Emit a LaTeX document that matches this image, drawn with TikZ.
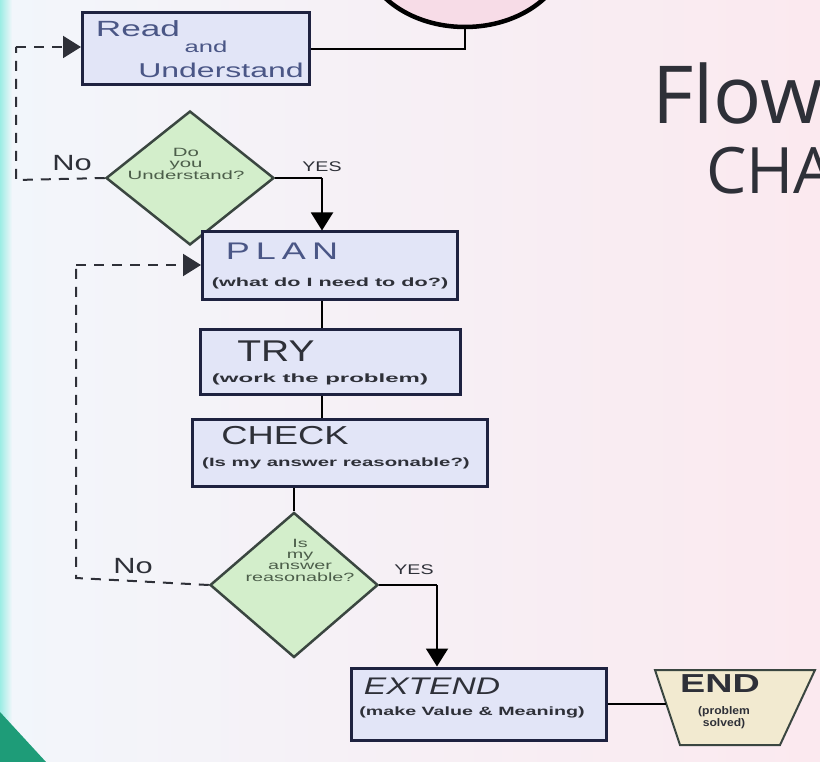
\documentclass[tikz,border=0pt]{standalone}
\usepackage{fontspec}
\setmainfont{Liberation Sans}
\newfontfamily\titlefont{Open Sans}
\usetikzlibrary{arrows.meta,shapes.geometric,calc}
\definecolor{bgL}{HTML}{F2F6FB}
\definecolor{bgR}{HTML}{FBE9EF}
\definecolor{boxfill}{HTML}{E2E5F7}
\definecolor{boxline}{HTML}{1E2240}
\definecolor{diafill}{HTML}{D3EECB}
\definecolor{dialine}{HTML}{3A4640}
\definecolor{endfill}{HTML}{F2EAD0}
\definecolor{ovalfill}{HTML}{F7DCE7}
\definecolor{bluetxt}{HTML}{4A5686}
\definecolor{darktxt}{HTML}{2E3038}
\definecolor{diatxt}{HTML}{4C5E4A}
\definecolor{teal}{HTML}{1E9C78}
\definecolor{cyanstrip}{HTML}{9CEDE4}
\tikzset{
  stepbox/.style={draw=boxline, line width=3pt, fill=boxfill, rectangle, inner sep=0pt},
  diabox/.style={draw=dialine, line width=2.5pt, fill=diafill, diamond, inner sep=0pt},
  txt/.style={inner sep=0pt, text=darktxt},
  diatext/.style={inner sep=0pt, text=diatxt, align=center, font=\fontsize{12}{11}\selectfont},
  conn/.style={draw=black, line width=2pt},
  dashconn/.style={draw=darktxt, line width=2pt, dash pattern=on 10pt off 8pt},
  arr/.style={-{Triangle[length=18pt,width=22pt]}},
  lbl/.style={inner sep=0pt, text=darktxt, font=\fontsize{22}{22}\selectfont},
  yeslbl/.style={inner sep=0pt, text=darktxt, font=\fontsize{14}{14}\selectfont}
}
\begin{document}
\begin{tikzpicture}[x=1pt,y=-1pt]
\useasboundingbox (0,0) rectangle (820,762);
\begin{scope}
\clip (0,0) rectangle (820,762);
% background
\shade[left color=bgL, right color=bgR] (0,0) rectangle (820,762);
\shade[left color=cyanstrip, right color=bgL] (0,0) rectangle (12,762);
\fill[teal] (0,712) -- (46,762) -- (0,762) -- cycle;

% start oval (cut off)
\node[ellipse, draw=black, line width=4.5pt, fill=ovalfill, minimum width=205pt, minimum height=156pt] (start) at (465,-51) {};

% title
\node[anchor=south west, inner sep=0pt, font=\titlefont\fontsize{80}{80}\selectfont, text=darktxt] (t1) at (652,124) {Flow};
\node[anchor=south west, inner sep=0pt, font=\titlefont\fontsize{64}{64}\selectfont, text=darktxt] (t2) at (706,194) {CHART};

% Read and Understand
\node[stepbox, minimum width=227pt, minimum height=72pt] (read) at (196,49) {};
\node[txt, text=bluetxt, font=\fontsize{22}{22}\selectfont] (rd1) at (138,29) {\scalebox{1.6}[1]{Read}};
\node[txt, text=bluetxt, font=\fontsize{16}{16}\selectfont] (rd2) at (206,47) {\scalebox{1.6}[1]{and}};
\node[txt, text=bluetxt, font=\fontsize{20}{20}\selectfont] (rd3) at (221,70) {\scalebox{1.6}[1]{Understand}};

% decision 1
\node[diabox, minimum width=168pt, minimum height=134pt] (d1) at (190,178) {};
\node[diatext] (d1t) at (186,166) {\scalebox{1.7}[1]{\begin{tabular}{@{}c@{}}Do\\you\\Understand?\end{tabular}}};

% PLAN
\node[stepbox, minimum width=255pt, minimum height=68pt] (plan) at (330,266) {};
\node[txt, text=bluetxt, font=\fontsize{24}{24}\selectfont] (p1) at (282,251) {\scalebox{1.5}[1]{P\,L\,A\,N}};
\node[txt, font=\bfseries\fontsize{12}{12}\selectfont] (p2) at (330,283) {\scalebox{1.8}[1]{(what do I need to do?)}};

% TRY
\node[stepbox, minimum width=260pt, minimum height=65pt] (try) at (330,362) {};
\node[txt, font=\fontsize{30}{30}\selectfont] (tr1) at (276,351) {\scalebox{1.3}[1]{TRY}};
\node[txt, font=\bfseries\fontsize{12}{12}\selectfont] (tr2) at (320,379) {\scalebox{2.0}[1]{(work the problem)}};

% CHECK
\node[stepbox, minimum width=295pt, minimum height=67pt] (check) at (340,453) {};
\node[txt, font=\fontsize{26}{26}\selectfont] (ch1) at (285,436) {\scalebox{1.4}[1]{CHECK}};
\node[txt, font=\bfseries\fontsize{12}{12}\selectfont] (ch2) at (336,463) {\scalebox{1.7}[1]{(Is my answer reasonable?)}};

% decision 2
\node[diabox, minimum width=168pt, minimum height=145pt] (d2) at (294,585) {};
\node[diatext] (d2t) at (300,562) {\scalebox{1.65}[1]{\begin{tabular}{@{}c@{}}Is\\my\\answer\\reasonable?\end{tabular}}};

% EXTEND
\node[stepbox, minimum width=255pt, minimum height=72pt] (extend) at (479,704) {};
\node[txt, font=\itshape\fontsize{24}{24}\selectfont] (e1) at (432,686) {\scalebox{1.4}[1]{EXTEND}};
\node[txt, font=\bfseries\fontsize{12}{12}\selectfont] (e2) at (472,712) {\scalebox{1.64}[1]{(make Value \& Meaning)}};

% END trapezoid
\draw[draw=dialine, line width=2pt, fill=endfill] (655,670) -- (815,670) -- (780,745) -- (680,745) -- cycle;
\coordinate (endw) at (666,704);
\node[txt, font=\bfseries\fontsize{26}{26}\selectfont] (endt) at (720,684) {\scalebox{1.45}[1]{END}};
\node[txt, align=center, font=\bfseries\fontsize{11}{12}\selectfont] (ends) at (724,718) {\scalebox{1.1}[1]{\begin{tabular}{@{}c@{}}(problem\\solved)\end{tabular}}};

% connectors
\draw[conn] (start.south) |- (read.east);

\coordinate (c1) at (16,47);
\coordinate (c2) at (16,180);
\draw[dashconn] (d1.west) -- (c2) -- (c1);
\draw[dashconn, arr] (c1) -- (read.west |- c1);
\node[lbl] (no1) at (72,163) {\scalebox{1.4}[1]{No}};

\coordinate (y1) at (322,178);
\draw[conn] (d1.east) -- (y1);
\draw[conn, arr] (y1) -- (y1 |- plan.north);
\node[yeslbl] (yes1) at (322,167) {\scalebox{1.4}[1]{YES}};

\coordinate (col) at (322,0);
\draw[conn] (plan.south -| col) -- (try.north -| col);
\draw[conn] (try.south -| col) -- (check.north -| col);
\draw[conn] (check.south -| d2.north) -- (d2.north);

\coordinate (c3) at (76,265);
\coordinate (c4) at (76,578);
\draw[dashconn] (d2.west) -- (c4) -- (c3);
\draw[dashconn, arr] (c3) -- (plan.west |- c3);
\node[lbl] (no2) at (133,566) {\scalebox{1.4}[1]{No}};

\coordinate (y2) at (437,585);
\draw[conn] (d2.east) -- (y2);
\draw[conn, arr] (y2) -- (y2 |- extend.north);
\node[yeslbl] (yes2) at (414,570) {\scalebox{1.4}[1]{YES}};

\draw[conn, line width=2.5pt] (extend.east) -- (endw);
\end{scope}
\end{tikzpicture}
\end{document}
